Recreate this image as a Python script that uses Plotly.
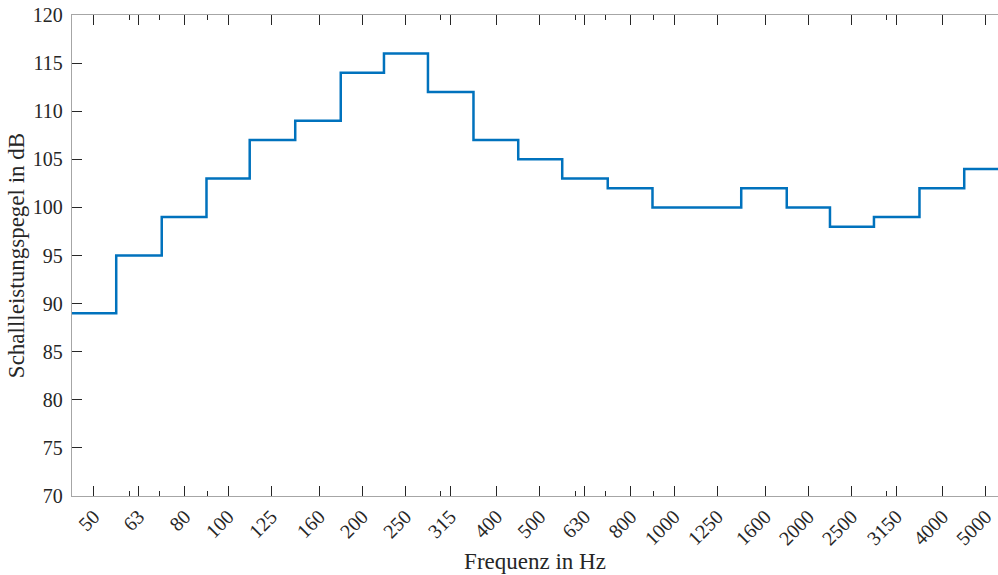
import numpy as np
import plotly.graph_objects as go

freqs = [50, 63, 80, 100, 125, 160, 200, 250, 315, 400, 500, 630, 800, 1000,
         1250, 1600, 2000, 2500, 3150, 4000, 5000]
tick_labels = [str(f) for f in freqs]
levels = [89, 95, 99, 103, 107, 109, 114, 116, 112, 107, 105, 103, 102, 100,
          100, 102, 100, 98, 99, 102, 104]
minor_ticks = [60, 70, 90, 300, 600, 700, 900, 3000]

f = np.array(freqs, dtype=float)
inner = np.sqrt(f[:-1] * f[1:])
edges = np.concatenate([[f[0] * 10 ** -0.05], inner, [f[-1] * 10 ** 0.05]])
ys = list(levels) + [levels[-1]]

fig = go.Figure()
fig.add_trace(go.Scatter(x=edges, y=ys, mode="lines", line_shape="hv",
                         line=dict(color="#0072BD", width=2.5),
                         showlegend=False, hoverinfo="skip"))

font_family = "Liberation Serif, Times New Roman, serif"
fig.update_layout(
    width=998, height=575,
    margin=dict(l=72, r=0, t=15, b=79),
    paper_bgcolor="white", plot_bgcolor="white",
    font=dict(family=font_family, color="#262626"),
    xaxis=dict(
        type="log", range=[1.65, 1.65 + 926 / 446],
        tickmode="array", tickvals=freqs, ticktext=tick_labels,
        tickangle=-45, tickfont=dict(size=20, family=font_family, color="#262626"),
        ticks="inside", ticklen=10, tickwidth=1, tickcolor="#262626",
        minor=dict(tickmode="array", tickvals=minor_ticks, ticks="inside",
                   ticklen=5, tickwidth=1, tickcolor="#262626", showgrid=False),
        showline=True, linecolor="#a6a6a6", linewidth=1.3, mirror="ticks",
        showgrid=False, zeroline=False,
        title=dict(text="Frequenz in Hz", font=dict(size=23, family=font_family, color="#262626"),
                   standoff=4),
    ),
    yaxis=dict(
        range=[70, 120], tickmode="array", tickvals=list(range(70, 121, 5)),
        tickfont=dict(size=20, family=font_family, color="#262626"),
        ticks="inside", ticklen=10, tickwidth=1, tickcolor="#262626",
        ticklabelstandoff=4,
        showline=True, linecolor="#a6a6a6", linewidth=1.3, mirror=False,
        showgrid=False, zeroline=False,
        title=dict(text="Schallleistungspegel in dB", font=dict(size=23, family=font_family, color="#262626"),
                   standoff=1),
    ),
)

fig.write_html("out.html")
